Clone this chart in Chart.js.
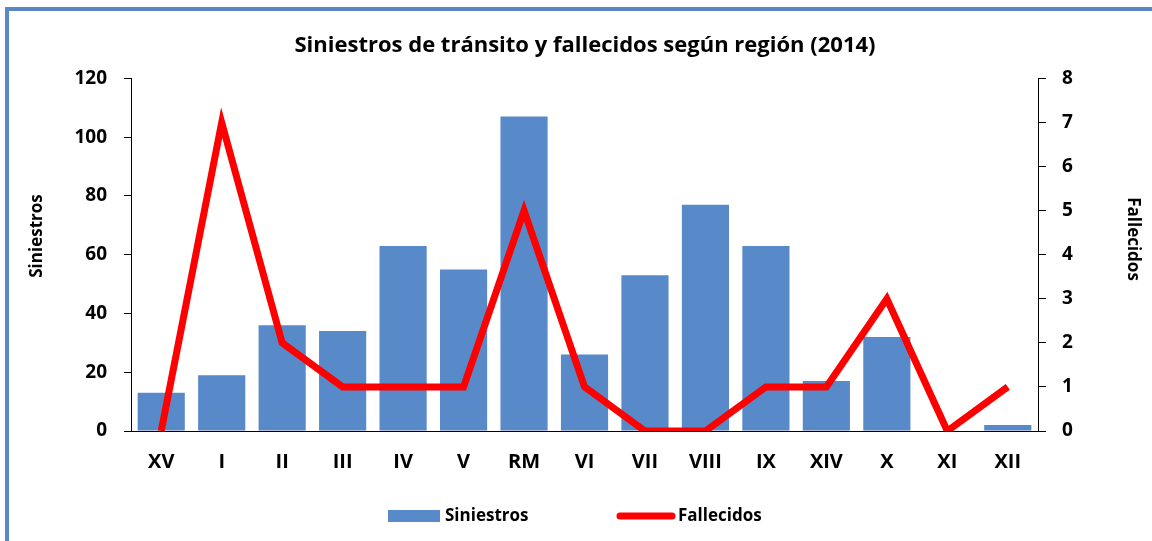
<!DOCTYPE html>
<html>
<head>
<meta charset="utf-8">
<script src="https://cdn.jsdelivr.net/npm/chart.js@4"></script>
<style>
  html, body { margin: 0; padding: 0; background: #fff; overflow: hidden; }
  #wrap { position: relative; width: 1152px; height: 541px; }
  #frame { position: absolute; left: 5px; top: 7px; width: 1200px; height: 600px;
           border: 4px solid #5b88c5; box-sizing: border-box; }
  canvas { position: absolute; left: 0; top: 0; }
</style>
</head>
<body>
<div id="wrap">
  <div id="frame"></div>
  <canvas id="chart" width="1152" height="541"></canvas>
</div>
<script>
// data
const regiones = ["XV", "I", "II", "III", "IV", "V", "RM", "VI", "VII", "VIII", "IX", "XIV", "X", "XI", "XII"];
const siniestros = [13, 19, 36, 34, 63, 55, 107, 26, 53, 77, 63, 17, 32, 0, 2];
const fallecidos = [0, 7, 2, 1, 1, 1, 5, 1, 0, 0, 1, 1, 3, 0, 1];

const FONT = "'Open Sans', Lato, sans-serif";

// legend + axis titles drawn by hand (Excel style placement)
const extras = {
  id: 'extras',
  afterDraw(chart) {
    const ctx = chart.ctx;
    const line = chart.data.datasets[0];
    const bar = chart.data.datasets[1];
    ctx.save();
    ctx.font = "bold 17px " + FONT;
    ctx.textBaseline = 'middle';
    ctx.fillStyle = bar.backgroundColor;
    ctx.fillRect(388, 510, 52, 12);
    ctx.fillStyle = '#000';
    ctx.fillText(bar.label, 445, 516);
    ctx.strokeStyle = line.borderColor;
    ctx.lineWidth = 7;
    ctx.lineCap = 'round';
    ctx.beginPath();
    ctx.moveTo(620, 516);
    ctx.lineTo(672, 516);
    ctx.stroke();
    ctx.fillText(line.label, 678, 516);

    // axis titles
    ctx.textAlign = 'center';
    ctx.save();
    ctx.translate(37, 236);
    ctx.rotate(-Math.PI / 2);
    ctx.fillText(bar.label, 0, 0);
    ctx.restore();
    ctx.save();
    ctx.translate(1133, 239);
    ctx.rotate(Math.PI / 2);
    ctx.fillText(line.label, 0, 0);
    ctx.restore();
    ctx.restore();
  }
};

const ctx = document.getElementById('chart');
const myChart = new Chart(ctx, {
  type: 'bar',
  data: {
    labels: regiones,
    datasets: [
      {
        type: 'line',
        label: 'Fallecidos',
        data: fallecidos,
        yAxisID: 'y2',
        borderColor: '#ff0000',
        backgroundColor: '#ff0000',
        borderWidth: 7,
        pointRadius: 0,
        tension: 0,
        order: 0
      },
      {
        type: 'bar',
        label: 'Siniestros',
        data: siniestros,
        yAxisID: 'y',
        backgroundColor: '#588ac9',
        barPercentage: 0.78,
        categoryPercentage: 1,
        order: 1
      }
    ]
  },
  options: {
    responsive: false,
    animation: false,
    layout: { padding: { left: 24, right: 6, top: 0, bottom: 43 } },
    plugins: {
      legend: { display: false },
      tooltip: { enabled: false },
      title: {
        display: true,
        text: 'Siniestros de tránsito y fallecidos según región (2014)',
        color: '#000',
        font: { family: FONT, size: 22, weight: 'bold' },
        padding: { top: 33, bottom: 19 }
      }
    },
    scales: {
      x: {
        grid: { drawOnChartArea: false, drawTicks: false },
        border: { display: true, color: '#000', width: 1 },
        ticks: { color: '#000', padding: 19, font: { family: FONT, size: 20, weight: 'bold' }, maxRotation: 0 },
        afterFit: (s) => { s.height = 67; }
      },
      y: {
        position: 'left',
        min: 0, max: 120,
        ticks: { stepSize: 20, color: '#000', padding: 17, font: { family: FONT, size: 19, weight: 'bold' } },
        grid: { drawOnChartArea: false, drawTicks: true, tickLength: 7, color: '#000' },
        border: { display: true, color: '#000', width: 1 },
        afterFit: (s) => { s.width = 107; }
      },
      y2: {
        position: 'right',
        min: 0, max: 8,
        ticks: { stepSize: 1, color: '#000', padding: 16, font: { family: FONT, size: 19, weight: 'bold' } },
        grid: { drawOnChartArea: false, drawTicks: true, tickLength: 8, color: '#000' },
        border: { display: true, color: '#000', width: 1 },
        afterFit: (s) => { s.width = 108; }
      }
    }
  },
  plugins: [extras]
});
</script>
</body>
</html>
